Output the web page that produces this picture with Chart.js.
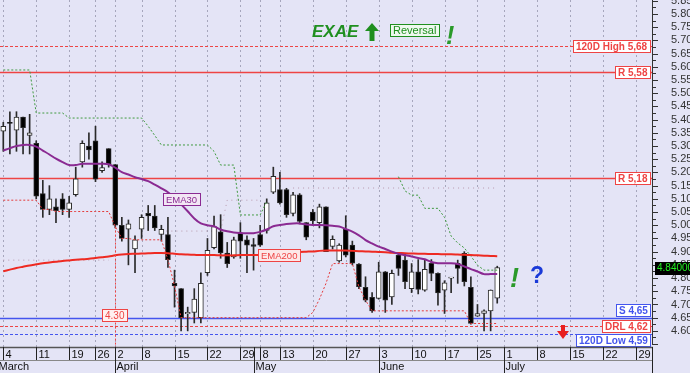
<!DOCTYPE html>
<html>
<head>
<meta charset="utf-8">
<script src="https://cdn.jsdelivr.net/npm/chart.js@4"></script>
<style>
  html, body { margin: 0; padding: 0; background: #e4e4f6; }
  #wrap { width: 690px; height: 373px; }
</style>
</head>
<body>
<div id="wrap"><canvas id="chart" width="690" height="373"></canvas></div>
<script>
// =============================================================
// DATA
// =============================================================
const weekLabels = ['4','11','19','26','2','8','15','22','29','8','13','20','27','3','10','17','25','1','8','15','22','29'];
const weekDays   = [5, 5, 4, 3, 4, 5, 5, 5, 3, 3, 5, 5, 5, 5, 5, 5, 4, 5, 5, 5, 5, 3];
const monthLabels = ['March', 'April', 'May', 'June', 'July'];
const monthStart  = [-1, 17, 38, 57, 76];

const yTicks = [4.60,4.65,4.70,4.75,4.80,4.85,4.90,4.95,5.00,5.05,5.10,5.15,5.20,5.25,
                5.30,5.35,5.40,5.45,5.50,5.55,5.60,5.65,5.70,5.75,5.80,5.85];

const open = [5.356,5.39,5.36,5.41,5.34,5.31,5.12,5.06,5.07,5.10,
              5.06,5.116,5.24,5.30,5.32,5.207,5.29,5.23,5.00,4.985,
              4.91,4.985,5.045,5.035,4.965,4.965,4.78,4.76,4.665,4.67,
              4.65,4.82,4.915,4.975,4.895,4.88,4.97,4.945,4.927,4.965,
              4.98,5.125,5.135,5.135,5.045,5.115,5.01,5.05,5.01,5.07,
              4.92,4.865,4.985,4.925,4.853,4.765,4.727,4.723,4.824,4.729,
              4.887,4.868,4.76,4.824,4.754,4.856,4.818,4.754,4.80,4.856,
              4.894,4.765,4.656,4.666,4.676,4.724];
const high = [5.39,5.43,5.43,5.41,5.42,5.32,5.17,5.15,5.10,5.12,
              5.11,5.22,5.32,5.35,5.375,5.24,5.29,5.23,5.03,5.02,
              4.96,5.04,5.075,5.075,5.00,5.03,4.83,4.76,4.69,4.76,
              4.82,4.95,5.035,5.04,4.935,4.955,5.01,4.96,4.95,5.00,
              5.10,5.22,5.20,5.14,5.125,5.12,5.01,5.06,5.08,5.07,
              4.96,4.93,5.036,4.94,4.855,4.805,4.745,4.86,4.825,4.83,
              4.89,4.89,4.855,4.87,4.868,4.87,4.82,4.79,4.80,4.868,
              4.90,4.805,4.70,4.68,4.755,4.845];
const low  = [5.28,5.27,5.28,5.27,5.27,5.10,5.03,5.04,5.01,5.04,
              5.03,5.11,5.22,5.25,5.165,5.20,5.22,4.99,4.94,4.85,
              4.82,4.95,4.98,4.98,4.94,4.84,4.69,4.60,4.60,4.63,
              4.63,4.81,4.91,4.875,4.84,4.875,4.875,4.82,4.83,4.92,
              4.97,5.12,5.08,5.03,5.035,5.005,4.945,5.00,4.99,4.90,
              4.91,4.86,4.88,4.85,4.76,4.71,4.67,4.72,4.67,4.70,
              4.81,4.76,4.745,4.74,4.75,4.79,4.697,4.666,4.745,4.78,
              4.77,4.625,4.655,4.60,4.60,4.705];
const close = [5.375,5.386,5.41,5.37,5.35,5.11,5.06,5.10,5.055,5.06,
               5.085,5.176,5.31,5.285,5.175,5.218,5.23,5.00,4.95,5.005,
               4.945,5.03,5.035,4.99,4.985,4.87,4.77,4.65,4.67,4.72,
               4.78,4.905,4.995,4.895,4.855,4.945,4.94,4.925,4.92,4.925,
               5.085,5.185,5.085,5.04,5.115,5.015,4.955,5.017,5.07,4.90,
               4.947,4.925,4.887,4.856,4.767,4.716,4.676,4.824,4.716,4.818,
               4.837,4.786,4.824,4.757,4.833,4.818,4.744,4.782,4.80,4.837,
               4.786,4.628,4.666,4.676,4.755,4.84];

const ema30 = [5.283,5.292,5.30,5.304,5.304,5.298,5.283,5.268,5.252,5.239,
               5.228,5.228,5.233,5.233,5.233,5.233,5.231,5.218,5.201,5.192,
               5.182,5.175,5.167,5.154,5.14,5.125,5.104,5.079,5.053,5.026,
               5.007,5.0,4.996,4.984,4.977,4.973,4.971,4.97,4.97,4.975,
               4.984,4.996,5.001,5.005,5.007,5.007,5.003,5.001,5.001,5.0,
               4.998,4.995,4.986,4.976,4.962,4.944,4.931,4.919,4.91,4.90,
               4.892,4.887,4.882,4.876,4.871,4.861,4.856,4.856,4.856,4.853,
               4.844,4.834,4.825,4.815,4.815,4.815];
const ema200 = [4.826,4.832,4.838,4.843,4.848,4.852,4.856,4.859,4.862,4.865,
                4.867,4.869,4.871,4.873,4.876,4.879,4.882,4.886,4.889,4.891,
                4.892,4.893,4.894,4.895,4.895,4.894,4.892,4.890,4.889,4.888,
                4.887,4.887,4.887,4.886,4.886,4.886,4.887,4.887,4.887,4.888,
                4.889,4.891,4.893,4.895,4.897,4.899,4.900,4.901,4.903,4.904,
                4.904,4.904,4.904,4.903,4.902,4.901,4.900,4.899,4.898,4.896,
                4.895,4.894,4.893,4.892,4.892,4.891,4.891,4.890,4.890,4.889,
                4.888,4.887,4.886,4.885,4.884,4.883];

// upper (green) and lower (red) channel stops
const upperStop = [5.588,5.588,5.588,5.588,5.588,5.425,5.425,5.425,5.425,5.425,
                   5.406,5.406,5.406,5.406,5.406,5.406,5.406,5.406,5.406,5.406,
                   5.406,5.406,5.375,5.34,5.304,5.304,5.304,5.304,5.304,5.304,
                   5.304,5.304,5.28,5.228,5.228,5.228,5.039,5.039,5.039,5.039,
                   5.09,null,null,null,null,null,null,null,null,null,
                   null,null,null,null,null,null,null,null,null,null,
                   5.184,5.13,5.114,5.114,5.064,5.064,5.064,5.03,4.959,4.933,
                   4.914,4.883,4.849,4.83,4.83,4.83];
const lowerStop = [5.095,5.095,5.095,5.095,5.095,5.095,5.06,5.06,5.052,5.052,
                   5.052,5.052,5.052,5.052,5.052,5.052,5.052,4.995,4.95,4.95,
                   4.945,4.945,4.945,4.945,4.945,4.87,4.77,4.65,4.65,4.65,
                   4.65,4.65,4.65,4.65,4.65,4.65,4.65,4.65,4.65,4.65,
                   4.65,4.65,4.65,4.65,4.65,4.65,4.65,4.67,4.72,4.78,
                   4.855,4.855,4.855,4.855,4.767,4.716,4.676,4.676,4.676,4.676,
                   4.676,4.676,4.676,4.676,4.676,4.676,4.676,4.676,4.676,4.676,
                   4.676,4.628,4.628,4.628,4.628,4.628];
// faint dotted stop
const faintStop = [4.868,4.868,4.868,4.868,4.868,4.868,4.868,4.868,4.868,4.868,
                   4.868,4.868,4.868,4.868,4.868,4.868,4.868,null,null,null,
                   null,null,null,null,4.978,4.978,4.978,4.978,4.978,4.978,
                   4.978,4.978,4.978,4.978,5.095,5.095,5.095,5.095,5.095,5.095,
                   null,null,null,null,5.141,5.141,5.141,5.141,5.141,5.141,
                   5.141,5.141,5.141,5.141,5.141,5.141,5.141,5.141,5.141,5.141,
                   5.141,5.141,5.141,5.141,5.141,5.141,5.141,5.141,5.141,5.141,
                   5.141,5.141,5.141,5.141,5.141,5.141];

const levelValues = [5.68, 5.58, 5.18, 4.65, 4.62, 4.59];
const levelTexts  = ['120D High 5,68', 'R 5,58', 'R 5,18', 'S 4,65', 'DRL 4,62', '120D Low 4,59'];

const lastPrice = 4.84;
const markerDay = 17;   // vertical marker, labelled 4.30

// =============================================================
// CATEGORIES
// =============================================================
const categories = [];
const weekStartIdx = [];
weekLabels.forEach((lab, i) => {
    weekStartIdx.push(categories.length);
    for (let d = 0; d < weekDays[i]; d++) categories.push(d === 0 ? lab : '');
});

const FONT = '"Liberation Sans", Arial, sans-serif';
const BG = '#e4e4f6';
const RED = '#ee4444', BLUE = '#4455ee', GREEN = '#1f8f1f';

const levelStyle = [
    { c: RED,  dash: [3, 2], w: 1,   dy: 0 },
    { c: RED,  dash: [],     w: 1.5, dy: 0 },
    { c: RED,  dash: [],     w: 1.5, dy: 0 },
    { c: BLUE, dash: [],     w: 1.5, dy: -8 },
    { c: RED,  dash: [3, 2], w: 1,   dy: 0 },
    { c: BLUE, dash: [3, 2], w: 1,   dy: 6 }
];

// =============================================================
// DRAW HELPERS
// =============================================================
function px(chart, k) { return chart.scales.x.getPixelForValue(k); }
function py(chart, v) { return chart.scales.y.getPixelForValue(v); }

function hline(ctx, x1, x2, y) { ctx.beginPath(); ctx.moveTo(x1, y); ctx.lineTo(x2, y); ctx.stroke(); }
function vline(ctx, x, y1, y2) { ctx.beginPath(); ctx.moveTo(x, y1); ctx.lineTo(x, y2); ctx.stroke(); }

function boxLabel(ctx, text, right, cy, color, font, fill) {
    ctx.font = font;
    const w = Math.ceil(ctx.measureText(text).width) + 5;
    const h = 12;
    const x = Math.round(right - w) + 0.5, y = Math.round(cy - h / 2) + 0.5;
    ctx.fillStyle = fill || '#ffffff';
    ctx.fillRect(x, y, w, h);
    ctx.setLineDash([]);
    ctx.lineWidth = 1;
    ctx.strokeStyle = color;
    ctx.strokeRect(x, y, w, h);
    ctx.fillStyle = color;
    ctx.textAlign = 'left';
    ctx.textBaseline = 'middle';
    ctx.fillText(text, x + 2.5, y + h / 2 + 0.5);
}

const overlay = {
    id: 'overlay',
    beforeDraw(chart) {
        const { ctx, width, height } = chart;
        ctx.save();
        ctx.fillStyle = BG;
        ctx.fillRect(0, 0, width, height);
        ctx.restore();
    },
    beforeDatasetsDraw(chart) {
        const { ctx, chartArea: a } = chart;
        ctx.save();
        // week grid
        ctx.strokeStyle = '#a6a6bc';
        ctx.lineWidth = 1;
        ctx.setLineDash([2, 3]);
        weekStartIdx.forEach(k => vline(ctx, Math.round(px(chart, k)) + 0.5, a.top, a.bottom));
        // support / resistance levels
        levelValues.forEach((v, i) => {
            const s = levelStyle[i];
            ctx.strokeStyle = s.c;
            ctx.lineWidth = s.w;
            ctx.setLineDash(s.dash);
            hline(ctx, a.left, a.right, Math.round(py(chart, v)) + 0.5);
        });
        ctx.restore();
    },
    afterDatasetsDraw(chart) {
        const { ctx, chartArea: a } = chart;
        ctx.save();

        // vertical marker with 4.30 label
        const mx = Math.round(px(chart, markerDay)) + 0.5;
        ctx.strokeStyle = RED;
        ctx.lineWidth = 1;
        ctx.setLineDash([2, 2]);
        vline(ctx, mx, py(chart, lowerStop[markerDay]), a.bottom);
        boxLabel(ctx, '4.30', mx + 11, 314.5, RED, '10px ' + FONT, '#fff0f0');

        // level labels
        levelValues.forEach((v, i) => {
            const s = levelStyle[i];
            boxLabel(ctx, levelTexts[i], a.right - 2, py(chart, v) + s.dy, s.c, 'bold 10px ' + FONT);
        });

        // indicator labels
        boxLabel(ctx, 'EMA30', 200, 198.5, '#8a2a92', '9.5px ' + FONT, '#f2e6f4');
        boxLabel(ctx, 'EMA200', 300, 255, RED, '9.5px ' + FONT, '#fde8e8');

        // title
        ctx.fillStyle = GREEN;
        ctx.textAlign = 'left';
        ctx.textBaseline = 'alphabetic';
        ctx.font = 'italic bold 17px ' + FONT;
        ctx.fillText('EXAE', 312, 37);
        // up arrow
        ctx.beginPath();
        ctx.moveTo(372, 23); ctx.lineTo(379, 31); ctx.lineTo(374.5, 31); ctx.lineTo(374.5, 41);
        ctx.lineTo(369.5, 41); ctx.lineTo(369.5, 31); ctx.lineTo(365, 31); ctx.closePath();
        ctx.fill();
        boxLabel(ctx, 'Reversal', 439, 29.5, GREEN, '11px ' + FONT, '#eef8ee');
        ctx.fillStyle = '#2a9a2a';
        ctx.font = 'italic bold 25px ' + FONT;
        ctx.fillText('!', 446, 37);
        ctx.font = 'italic bold 27px ' + FONT;
        ctx.fillText('!', 510, 280);
        ctx.fillStyle = '#1a3ad8';
        ctx.font = 'bold 23px ' + FONT;
        ctx.fillText('?', 530, 277);

        // red down arrow
        ctx.fillStyle = '#e82020';
        ctx.beginPath();
        ctx.moveTo(561, 325); ctx.lineTo(565, 325); ctx.lineTo(565, 331); ctx.lineTo(569, 331);
        ctx.lineTo(563, 339); ctx.lineTo(557, 331); ctx.lineTo(561, 331); ctx.closePath();
        ctx.fill();

        ctx.restore();
    },
    afterDraw(chart) {
        const { ctx, chartArea: a, width, height } = chart;
        ctx.save();
        ctx.setLineDash([]);

        // right axis
        ctx.strokeStyle = '#333';
        ctx.lineWidth = 1;
        vline(ctx, a.right + 0.5, 0, a.bottom - 2);
        for (let v = 4.55; v <= 5.86; v += 0.025) {
            const y = Math.round(py(chart, v)) + 0.5;
            const major = Math.abs(Math.round(v * 20) - v * 20) < 0.01;
            hline(ctx, a.right, a.right + (major ? 6 : 4), y);
        }
        ctx.fillStyle = '#333';
        ctx.font = '11px ' + FONT;
        ctx.textAlign = 'left';
        ctx.textBaseline = 'middle';
        yTicks.forEach(v => ctx.fillText(v.toFixed(2), a.right + 19, py(chart, v)));

        // last price tag
        const ly = py(chart, lastPrice);
        ctx.fillStyle = '#000';
        ctx.fillRect(a.right + 3, Math.round(ly) - 6, width - a.right - 3, 13);
        ctx.fillStyle = '#22ee22';
        ctx.font = '10px ' + FONT;
        ctx.fillText(lastPrice.toFixed(5), a.right + 5, Math.round(ly) + 0.5);

        // date strip
        const top = a.bottom, mid = a.bottom + 13;
        ctx.fillStyle = BG;
        ctx.fillRect(0, top, a.right + 1, height - top);
        ctx.strokeStyle = '#555';
        ctx.lineWidth = 1.5;
        hline(ctx, 0, a.right + 1, top + 0.5);
        ctx.strokeStyle = '#888';
        ctx.lineWidth = 1;
        hline(ctx, 0, a.right + 1, mid + 0.5);
        ctx.strokeStyle = '#222';
        ctx.fillStyle = '#111';
        ctx.font = '11px ' + FONT;
        ctx.textBaseline = 'middle';
        weekStartIdx.forEach((k, i) => {
            const x = Math.round(px(chart, k)) + 0.5;
            vline(ctx, x, top, mid);
            ctx.fillText(weekLabels[i], x + 2, top + 7.5);
        });
        monthStart.forEach((k, i) => {
            const x = Math.round(px(chart, k)) + 0.5;
            vline(ctx, x, top, height);
            ctx.fillText(monthLabels[i], x + 1, mid + 7);
        });
        vline(ctx, a.right + 0.5, top, height);

        ctx.restore();
    }
};

// =============================================================
// CHART
// =============================================================
const upColor = close.map((c, i) => c >= open[i] ? '#ffffff' : '#000000');

new Chart(document.getElementById('chart'), {
    type: 'bar',
    data: {
        labels: categories,
        datasets: [
            {
                type: 'line', label: 'EMA30', data: ema30, order: 0,
                borderColor: '#8a2a92', borderWidth: 2, pointRadius: 0, tension: 0.3
            },
            {
                type: 'line', label: 'EMA200', data: ema200, order: 0,
                borderColor: '#ee2a22', borderWidth: 2, pointRadius: 0, tension: 0.3
            },
            {
                type: 'line', label: 'Upper', data: upperStop, order: 0,
                borderColor: '#3f9a3f', borderWidth: 1, borderDash: [2, 2], pointRadius: 0, spanGaps: false
            },
            {
                type: 'line', label: 'Lower', data: lowerStop, order: 0,
                borderColor: '#e43a3a', borderWidth: 1, borderDash: [2, 2], pointRadius: 0
            },
            {
                type: 'line', label: 'Faint', data: faintStop, order: 3,
                borderColor: '#b89aae', borderWidth: 1, borderDash: [1, 4], pointRadius: 0, spanGaps: false
            },
            {
                label: 'Body', data: open.map((o, i) => [o, close[i]]), order: 1,
                backgroundColor: upColor, borderColor: '#2a2a2a', borderWidth: 1,
                barThickness: 5, grouped: false, minBarLength: 1, borderSkipped: false
            },
            {
                label: 'Wick', data: low.map((l, i) => [l, high[i]]), order: 2,
                backgroundColor: '#2a2a2a', barThickness: 1, grouped: false
            }
        ]
    },
    options: {
        responsive: false,
        devicePixelRatio: 1,
        animation: false,
        layout: { padding: { left: 0, right: 0, top: 0, bottom: 26 } },
        plugins: { legend: { display: false }, tooltip: { enabled: false } },
        scales: {
            x: { display: false, offset: true },
            y: {
                position: 'right', min: 4.539, max: 5.853,
                grid: { display: false, drawTicks: false },
                border: { display: false },
                ticks: { display: false },
                afterFit: s => { s.width = 38; }
            }
        }
    },
    plugins: [overlay]
});
</script>
</body>
</html>
